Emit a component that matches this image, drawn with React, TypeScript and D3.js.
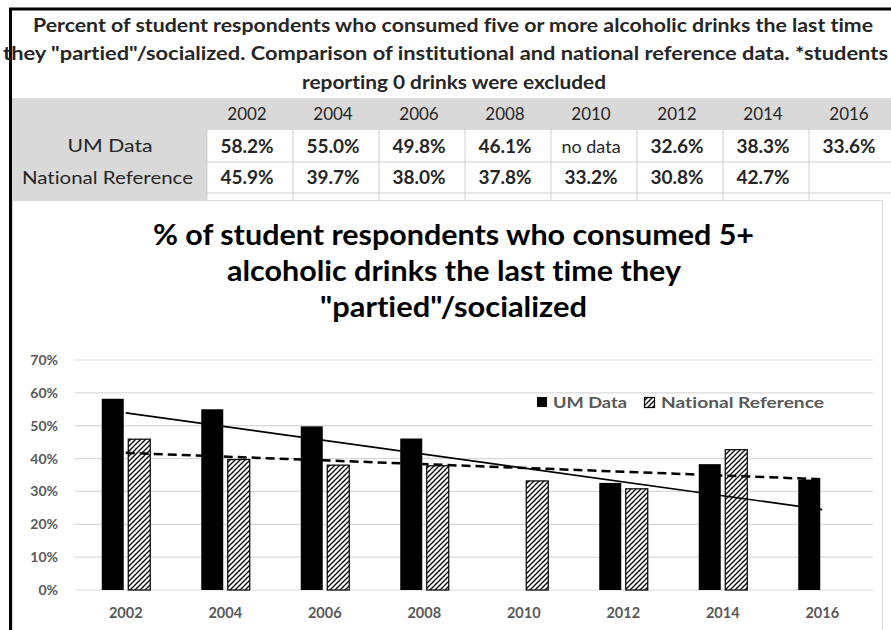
import React from 'react';
import * as d3 from 'd3';

// ---------- DATA ----------
const years: string[] = ['2002', '2004', '2006', '2008', '2010', '2012', '2014', '2016'];
const umData: (number | null)[] = [58.2, 55.0, 49.8, 46.1, null, 32.6, 38.3, 33.6];
const natData: (number | null)[] = [45.9, 39.7, 38.0, 37.8, 33.2, 30.8, 42.7, null];
const umLabels: string[] = ['58.2%', '55.0%', '49.8%', '46.1%', 'no data', '32.6%', '38.3%', '33.6%'];
const natLabels: string[] = ['45.9%', '39.7%', '38.0%', '37.8%', '33.2%', '30.8%', '42.7%', ''];
const seriesNames: string[] = ['UM Data', 'National Reference'];
const yTicks: number[] = [0, 10, 20, 30, 40, 50, 60, 70];
const tableTitleLines: string[] = [
  'Percent of student respondents who consumed five or more alcoholic drinks the last time',
  'they "partied"/socialized. Comparison of institutional and national reference data. *students',
  'reporting 0 drinks were excluded',
];
const chartTitleLines: string[] = [
  '% of student respondents who consumed 5+',
  'alcoholic drinks the last time they',
  '"partied"/socialized',
];

// ---------- LAYOUT ----------
const W = 891;
const H = 630;
const FONT = "Lato, 'Open Sans', 'DejaVu Sans', sans-serif";
const tableTitleLayout = [
  { cx: 453, y: 31.5, len: 840 },
  { cx: 445.5, y: 59.5, len: 885 },
  { cx: 454, y: 88.5, len: 304 },
];
const chartTitleLayout = [
  { cx: 453.5, y: 245, len: 601 },
  { cx: 454, y: 281, len: 454 },
  { cx: 453.5, y: 317, len: 267 },
];
const rowLabelLayout = [
  { cx: 110, len: 85 },
  { cx: 107.5, len: 171 },
];

function linReg(xs: number[], ys: number[]) {
  const mx = d3.mean(xs) as number;
  const my = d3.mean(ys) as number;
  let sxy = 0, sxx = 0;
  xs.forEach((x, i) => { sxy += (x - mx) * (ys[i] - my); sxx += (x - mx) * (x - mx); });
  const b = sxy / sxx;
  return { a: my - b * mx, b };
}

export default function App() {
  // table geometry
  const colX = d3.scaleBand<string>().domain(years).range([207, 895]);
  const rowHeader = { y0: 98, y1: 130 };
  const rowUM = { y0: 130, y1: 162 };
  const rowNat = { y0: 162, y1: 193 };
  const colC = (yr: string) => (colX(yr) as number) + colX.bandwidth() / 2 - 3;

  // chart geometry
  const x = d3.scaleBand<string>().domain(years).range([76, 872]).padding(0);
  const bw = x.bandwidth();
  const x1 = d3.scaleBand<string>().domain(seriesNames)
    .range([bw / 2 - 24, bw / 2 + 24]).paddingInner(4 / 26).paddingOuter(0);
  const y = d3.scaleLinear().domain([0, 70]).range([590, 360]);
  const cx = (i: number) => (x(years[i]) as number) + bw / 2;

  // trendlines (Excel treats the "no data" text cell as 0 for the UM series)
  const idx = years.map((_, i) => i + 1);
  const umTrend = linReg(idx, umData.map((v) => v ?? 0));
  const natIdx = idx.filter((_, i) => natData[i] != null);
  const natTrend = linReg(natIdx, natData.filter((v) => v != null) as number[]);
  const trendLine = (t: { a: number; b: number }) =>
    d3.line<number>().x((k) => cx(k - 1)).y((k) => y(t.a + t.b * k))([1, idx.length]) as string;

  const gray = '#595959';
  const textDark = '#262626';

  return (
    <svg width={W} height={H} style={{ position: 'absolute', left: 0, top: 0, background: '#fff', fontVariantLigatures: 'none' }}
      fontFamily={FONT}>
      <defs>
        <pattern id="hatch" patternUnits="userSpaceOnUse" width="5" height="5">
          <rect width="5" height="5" fill="#fff" />
          <path d="M-1,1 l2,-2 M0,5 l5,-5 M4,6 l2,-2" stroke="#000" strokeWidth="1.3" />
        </pattern>
      </defs>
      <rect x={0} y={0} width={W} height={H} fill="#fff" />

      {/* ---------- TABLE ---------- */}
      <rect x={12} y={rowHeader.y0} width={W - 12} height={rowHeader.y1 - rowHeader.y0} fill="#d9d9d9" />
      <rect x={12} y={rowHeader.y0} width={207 - 12} height={200 - rowHeader.y0} fill="#d9d9d9" />
      {years.map((yr) => (
        <line key={'v' + yr} x1={colX(yr)} x2={colX(yr)} y1={rowUM.y0} y2={200} stroke="#cfcfcf" strokeWidth={1} />
      ))}
      {[rowUM.y1, rowNat.y1].map((yy) => (
        <line key={'h' + yy} x1={207} x2={W} y1={yy} y2={yy} stroke="#cfcfcf" strokeWidth={1} />
      ))}
      {years.map((yr) => (
        <text key={'hy' + yr} x={colC(yr)} y={(rowHeader.y0 + rowHeader.y1) / 2 + 6}
          textAnchor="middle" fontSize={17} fill={textDark}>{yr}</text>
      ))}
      {[rowUM, rowNat].map((r, i) => (
        <text key={'rl' + i} x={rowLabelLayout[i].cx} y={(r.y0 + r.y1) / 2 + 6} textAnchor="middle" fontSize={18}
          fill={textDark} textLength={rowLabelLayout[i].len} lengthAdjust="spacingAndGlyphs">{seriesNames[i]}</text>
      ))}
      {years.map((yr, i) => (
        <text key={'um' + yr} x={colC(yr)} y={(rowUM.y0 + rowUM.y1) / 2 + 6.5}
          textAnchor="middle" fontSize={umData[i] == null ? 18 : 19} fontWeight={umData[i] == null ? 400 : 700} fill={textDark}>{umLabels[i]}</text>
      ))}
      {years.map((yr, i) => (
        <text key={'nat' + yr} x={colC(yr)} y={(rowNat.y0 + rowNat.y1) / 2 + 6.5}
          textAnchor="middle" fontSize={19} fontWeight={700} fill={textDark}>{natLabels[i]}</text>
      ))}
      {/* outer black frame */}
      <line x1={9} x2={W} y1={9} y2={9} stroke="#000" strokeWidth={3} />
      <line x1={10.5} x2={10.5} y1={8} y2={H} stroke="#000" strokeWidth={3} />
      {tableTitleLines.map((t, i) => (
        <text key={'tt' + i} x={tableTitleLayout[i].cx} y={tableTitleLayout[i].y} textAnchor="middle"
          fontSize={18.5} fontWeight={700} fill={textDark}
          textLength={tableTitleLayout[i].len} lengthAdjust="spacingAndGlyphs">{t}</text>
      ))}

      {/* ---------- CHART ---------- */}
      <rect x={12.5} y={200.5} width={870} height={H} fill="#fff" stroke="#d9d9d9" strokeWidth={1} />
      {chartTitleLines.map((t, i) => (
        <text key={'ct' + i} x={chartTitleLayout[i].cx} y={chartTitleLayout[i].y} textAnchor="middle"
          fontSize={29} fontWeight={700} fill="#000"
          textLength={chartTitleLayout[i].len} lengthAdjust="spacingAndGlyphs">{t}</text>
      ))}
      {/* gridlines */}
      {yTicks.map((t) => (
        <line key={'g' + t} x1={75} x2={873} y1={y(t)} y2={y(t)} stroke="#d9d9d9" strokeWidth={1.2} />
      ))}
      {yTicks.map((t) => (
        <text key={'yl' + t} x={58} y={y(t) + 5} textAnchor="end" fontSize={14} fontWeight={700} fill={gray}>
          {d3.format('.0%')(t / 100)}
        </text>
      ))}
      {years.map((yr, i) => (
        <text key={'xl' + yr} x={cx(i)} y={618} textAnchor="middle" fontSize={14.5} fontWeight={700} fill={gray}>{yr}</text>
      ))}
      {/* bars */}
      {years.map((yr, i) => umData[i] == null ? null : (
        <rect key={'bu' + yr} x={(x(yr) as number) + (x1(seriesNames[0]) as number)} y={y(umData[i] as number)}
          width={x1.bandwidth()} height={y(0) - y(umData[i] as number)} fill="#000" />
      ))}
      {years.map((yr, i) => natData[i] == null ? null : (
        <rect key={'bn' + yr} x={(x(yr) as number) + (x1(seriesNames[1]) as number) + 0.5} y={y(natData[i] as number)}
          width={x1.bandwidth()} height={y(0) - y(natData[i] as number)} fill="url(#hatch)" stroke="#000" strokeWidth={1.2} />
      ))}
      {/* trendlines */}
      <path d={trendLine(umTrend)} fill="none" stroke="#000" strokeWidth={1.7} />
      <path d={trendLine(natTrend)} fill="none" stroke="#000" strokeWidth={2.5} strokeDasharray="9,5" />
      {/* legend */}
      <rect x={537} y={397} width={10} height={10} fill="#000" />
      <text x={553} y={408} fontSize={16} fontWeight={700} fill={gray} textLength={74} lengthAdjust="spacingAndGlyphs">{seriesNames[0]}</text>
      <rect x={644.5} y={397.5} width={10} height={10} fill="url(#hatch)" stroke="#000" strokeWidth={1.2} />
      <text x={661} y={408} fontSize={16} fontWeight={700} fill={gray} textLength={163} lengthAdjust="spacingAndGlyphs">{seriesNames[1]}</text>
    </svg>
  );
}
